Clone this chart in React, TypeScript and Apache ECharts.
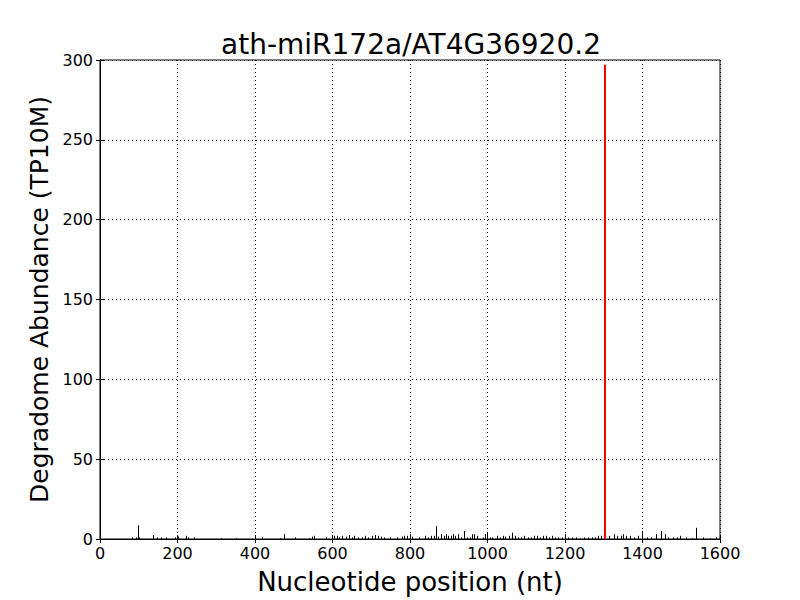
import React, { useEffect, useRef } from "react";
import * as echarts from "echarts";

const TITLE = "ath-miR172a/AT4G36920.2";
const X_NAME = "Nucleotide position (nt)";
const Y_NAME = "Degradome Abundance (TP10M)";

const positions = [
  83, 93, 98, 101, 137, 147, 157, 170, 194, 201, 222, 227, 243, 312, 351, 418, 465, 475, 503, 539,
  547, 552, 583, 599, 604, 612, 617, 625, 635, 643, 650, 655, 666, 676, 684, 692, 702, 710, 717,
  725, 733, 748, 766, 779, 785, 792, 800, 805, 823, 839, 846, 854, 862, 867, 872, 880, 888, 893, 898,
  906, 911, 916, 924, 932, 939, 947, 955, 960, 965, 973, 988, 994, 999, 1006, 1012, 1025, 1032, 1040,
  1045, 1055, 1063, 1071, 1079, 1086, 1094, 1105, 1112, 1120, 1128, 1135, 1143, 1151, 1159, 1166,
  1174, 1182, 1192, 1200, 1208, 1218, 1228, 1239, 1249, 1259, 1270, 1277, 1285, 1293, 1314, 1326,
  1334, 1345, 1350, 1357, 1368, 1378, 1388, 1399, 1412, 1422, 1435, 1448, 1458, 1466, 1479, 1489,
  1497, 1512, 1528, 1538, 1556, 1574, 1590,
];
const values = [
  1, 1, 8.5, 1, 2.5, 1, 1, 1, 1, 1.5, 2, 1, 1, 0.5, 0.5, 1, 0.5, 3, 1, 0.5,
  1.5, 2, 1, 1, 2, 2, 1, 2, 1.5, 2.5, 1, 2, 1, 1, 2, 1, 2, 2.5, 2,
  1.5, 1, 1, 1, 1.5, 2, 2, 3, 1.5, 1, 2, 1, 2, 2, 8, 1.5, 3, 2, 3, 2,
  2, 3, 2, 3, 1, 5, 1, 1, 3, 3, 2, 1, 3, 4, 1, 1, 2, 1, 2,
  1.5, 2, 4, 2, 1, 1, 2, 1, 1, 2, 2, 1, 2, 2, 1, 2,
  1, 1, 1, 3, 1, 1, 1, 0.5, 1, 1, 1, 1, 2, 2, 2, 3,
  2, 2, 3, 2, 2, 1, 2, 5, 1, 1, 3, 5, 3, 1, 1, 1,
  2, 1, 0.5, 7, 1, 0.5, 1,
];
const targetPosition = [1303];
const targetValue = [297];

const xTicks = [0, 200, 400, 600, 800, 1000, 1200, 1400, 1600];
const yTicks = [0, 50, 100, 150, 200, 250, 300];

const FONT = "DejaVu Sans";

function stemSeries(xs: number[], ys: number[], color: string, width: number) {
  return {
    type: "custom",
    xAxisIndex: 0,
    yAxisIndex: 0,
    data: xs.map((x, i) => [x, ys[i]]),
    renderItem: (params: any, api: any) => {
      const p0 = api.coord([api.value(0), 0]);
      const p1 = api.coord([api.value(0), api.value(1)]);
      const px = width % 2 === 1 ? Math.round(p0[0]) + 0.5 : Math.round(p0[0]);
      return {
        type: "line",
        shape: { x1: px, y1: p0[1], x2: px, y2: p1[1] },
        style: { stroke: color, lineWidth: width },
      };
    },
    z: 5,
  };
}

export default function App() {
  const ref = useRef<HTMLDivElement>(null);
  useEffect(() => {
    const chart = echarts.init(ref.current!, null, { renderer: "svg" });
    const xMin = xTicks[0];
    const xMax = xTicks[xTicks.length - 1];
    const yMin = yTicks[0];
    const yMax = yTicks[yTicks.length - 1];
    const tickStyle = { show: true, inside: true, length: 4, lineStyle: { color: "#000" } };
    const plain = (v: number) => String(v);
    chart.setOption({
      animation: false,
      backgroundColor: "#fff",
      title: {
        text: TITLE,
        left: 406,
        top: 25,
        textAlign: "center",
        textStyle: { fontFamily: FONT, fontSize: 28, fontWeight: "normal", color: "#000" },
      },
      grid: {
        left: 100,
        right: 80,
        top: 60,
        bottom: 60,
        show: true,
        borderColor: "#000",
        borderWidth: 1,
        backgroundColor: "transparent",
      },
      xAxis: [
        {
          type: "value",
          min: xMin,
          max: xMax,
          interval: 200,
          position: "bottom",
          name: X_NAME,
          nameLocation: "middle",
          nameGap: 30,
          nameTextStyle: { fontFamily: FONT, fontSize: 26, color: "#000" },
          axisLine: { show: true, lineStyle: { color: "#000" } },
          axisTick: tickStyle,
          axisLabel: { fontFamily: FONT, fontSize: 16, color: "#000", margin: 6, formatter: plain },
          splitLine: { show: true, lineStyle: { color: "#000", type: [1, 3], width: 1 } },
        },
        {
          type: "value",
          min: xMin,
          max: xMax,
          interval: 200,
          position: "top",
          axisLine: { show: true, lineStyle: { color: "#000" } },
          axisTick: tickStyle,
          axisLabel: { show: false },
          splitLine: { show: false },
        },
      ],
      yAxis: [
        {
          type: "value",
          min: yMin,
          max: yMax,
          interval: 50,
          position: "left",
          name: Y_NAME,
          nameLocation: "middle",
          nameGap: 45,
          nameTextStyle: { fontFamily: FONT, fontSize: 25, color: "#000" },
          axisLine: { show: true, lineStyle: { color: "#000" } },
          axisTick: tickStyle,
          axisLabel: { fontFamily: FONT, fontSize: 16, color: "#000", margin: 7, formatter: plain },
          splitLine: { show: true, lineStyle: { color: "#000", type: [1, 3], width: 1 } },
        },
        {
          type: "value",
          min: yMin,
          max: yMax,
          interval: 50,
          position: "right",
          axisLine: { show: true, lineStyle: { color: "#000" } },
          axisTick: tickStyle,
          axisLabel: { show: false },
          splitLine: { show: false },
        },
      ],
      series: [
        stemSeries(positions, values, "#000", 1),
        stemSeries(targetPosition, targetValue, "#ff0000", 2),
      ],
    });
    return () => chart.dispose();
  }, []);
  return (
    <div
      ref={ref}
      style={{ position: "fixed", left: 0, top: 0, width: 800, height: 600 }}
    />
  );
}
